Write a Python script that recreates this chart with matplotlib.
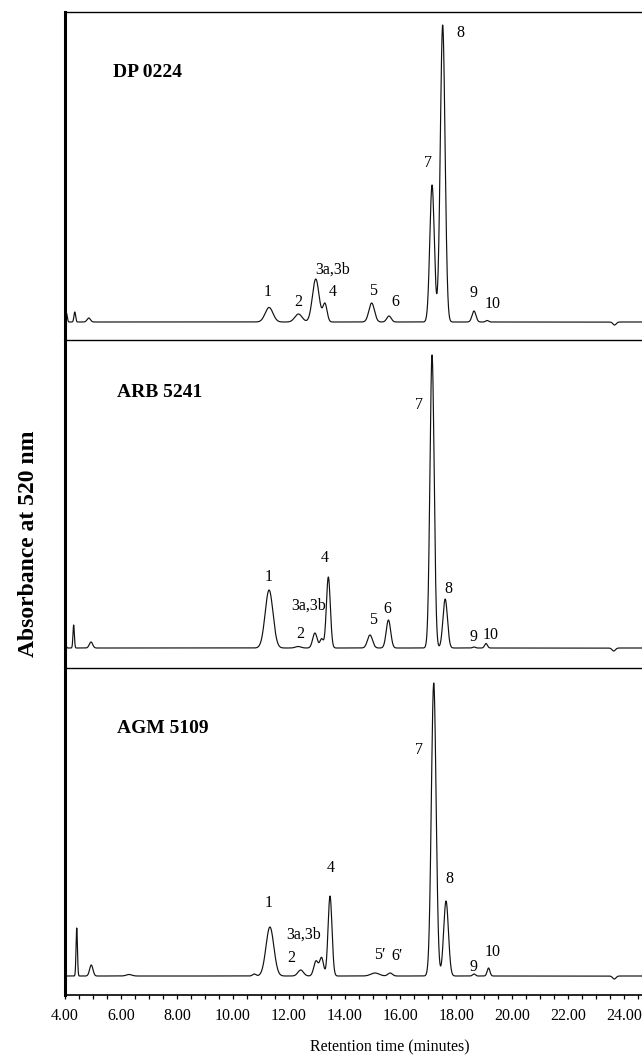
import numpy as np
import matplotlib.pyplot as plt
from matplotlib.ticker import MultipleLocator, FormatStrFormatter

plt.rcParams['font.family'] = ['Liberation Serif', 'DejaVu Serif']

# peak tables: retention time (min), height (arbitrary units), width (sigma, min)
dp_times = [4.05, 4.35, 4.85, 11.30, 12.35, 12.97, 13.30, 14.97, 15.59,
            17.13, 17.51, 18.63, 19.10, 23.66]
dp_heights = [9, 10, 4, 14.5, 8, 43, 18, 19, 6, 137, 297, 11, 1.5, -3]
dp_widths = [0.03, 0.03, 0.06, 0.14, 0.13, 0.12, 0.075, 0.10, 0.08,
             0.08, 0.085, 0.07, 0.05, 0.06]

arb_times = [3.99, 4.31, 4.93, 11.30, 12.34, 12.94, 13.18, 13.42, 14.91,
             15.57, 17.13, 17.60, 18.63, 19.06, 23.63]
arb_heights = [15, 23, 6, 58, 1.5, 15, 9, 71, 13, 28, 293, 49, 1, 4.5, -3]
arb_widths = [0.03, 0.025, 0.06, 0.14, 0.10, 0.08, 0.06, 0.07, 0.09,
              0.08, 0.075, 0.08, 0.05, 0.05, 0.06]

agm_times = [4.42, 4.94, 6.29, 10.77, 11.33, 12.43, 12.98, 13.18, 13.48,
             15.09, 15.63, 17.19, 17.63, 18.63, 19.15, 23.65]
agm_heights = [48, 11, 1.5, 2, 49, 6, 15, 18, 80, 3, 3, 293, 75, 2, 8, -3]
agm_widths = [0.025, 0.06, 0.10, 0.06, 0.14, 0.10, 0.08, 0.07, 0.07,
              0.15, 0.08, 0.085, 0.085, 0.05, 0.05, 0.06]

samples = ['DP 0224', 'ARB 5241', 'AGM 5109']

# peak labels: (text, retention time, height)
dp_labels = [('1', 11.26, 30), ('2', 12.34, 20), ('3a,3b', 13.59, 52),
             ('4', 13.58, 30), ('5', 15.02, 31), ('6', 15.81, 20),
             ('7', 16.99, 159), ('8', 18.13, 289), ('9', 18.63, 29),
             ('10', 19.28, 18)]
arb_labels = [('1', 11.27, 71), ('2', 12.43, 14), ('3a,3b', 12.71, 42),
              ('4', 13.30, 90), ('5', 15.03, 28), ('6', 15.53, 39),
              ('7', 16.67, 243), ('8', 17.71, 59), ('9', 18.63, 11),
              ('10', 19.24, 13)]
agm_labels = [('1', 11.27, 73), ('2', 12.11, 18), ('3a,3b', 12.55, 41),
              ('4', 13.52, 108), ('5\u2032', 15.27, 21), ('6\u2032', 15.87, 20),
              ('7', 16.67, 226), ('8', 17.74, 97), ('9', 18.63, 9),
              ('10', 19.30, 24)]


def trace(t, times, heights, widths):
    y = np.zeros_like(t)
    for t0, h, w in zip(times, heights, widths):
        y += h * np.exp(-0.5 * ((t - t0) / w) ** 2)
    return y


t = np.linspace(4.0, 24.64, 6000)

fig = plt.figure(figsize=(6.42, 10.55), dpi=100)
left, width = 65 / 642, 1 - 65 / 642
panels = [
    (dict(t=dp_times, h=dp_heights, w=dp_widths), dp_labels,
     (12, 340), (-18, 310), (0.083, 0.817)),
    (dict(t=arb_times, h=arb_heights, w=arb_widths), arb_labels,
     (340, 668), (-20, 308), (0.090, 0.841)),
    (dict(t=agm_times, h=agm_heights, w=agm_widths), agm_labels,
     (668, 995), (-19, 308), (0.090, 0.8165)),
]

for i, (pk, labels, (top_px, bot_px), ylim, name_pos) in enumerate(panels):
    bottom = 1 - bot_px / 1055
    height = (bot_px - top_px) / 1055
    ax = fig.add_axes([left, bottom, width, height])
    ax.plot(t, trace(t, pk['t'], pk['h'], pk['w']), color='#111111', lw=0.85)
    ax.set_xlim(4.0, 24.64)
    ax.set_ylim(*ylim)

    ax.spines['right'].set_visible(False)
    ax.spines['left'].set_linewidth(2.2)
    ax.spines['top'].set_linewidth(1.0)
    ax.set_yticks([])

    ax.text(name_pos[0], name_pos[1], samples[i], transform=ax.transAxes,
            ha='left', va='center', fontsize=14, fontweight='bold')
    for txt, lx, ly in labels:
        ax.text(lx, ly, txt, ha='center', va='center', fontsize=11.5)

    if i < 2:
        ax.spines['bottom'].set_visible(False)
        ax.set_xticks([])
    else:
        ax.spines['bottom'].set_linewidth(1.2)
        ax.xaxis.set_major_locator(MultipleLocator(2))
        ax.xaxis.set_minor_locator(MultipleLocator(0.5))
        ax.xaxis.set_major_formatter(FormatStrFormatter('%.2f'))
        ax.tick_params(axis='x', which='both', direction='out', length=3,
                       width=0.9, labelsize=11.5, pad=6.5)

fig.text(29 / 642, 1 - 544 / 1055, 'Absorbance at 520 nm', rotation=90,
         ha='center', va='center', fontsize=17, fontweight='bold')
fig.text(390 / 642, 0.0035, 'Retention time (minutes)', ha='center',
         va='baseline', fontsize=11.5)

fig.savefig('out.png', dpi=100)
